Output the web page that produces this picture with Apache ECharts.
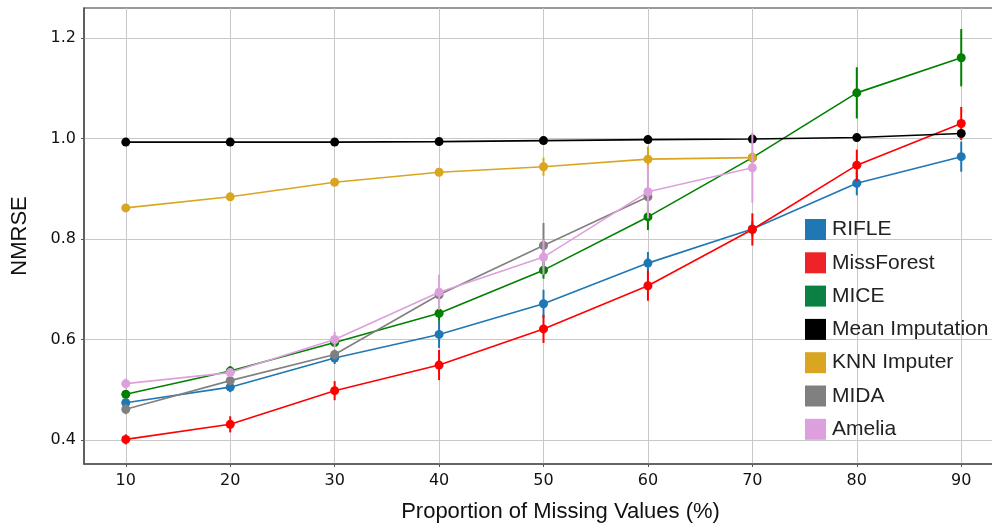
<!DOCTYPE html>
<html>
<head>
<meta charset="utf-8">
<script src="https://cdn.jsdelivr.net/npm/echarts@6/dist/echarts.min.js"></script>
<style>html,body{margin:0;padding:0;background:#fff}#c{width:992px;height:523px}</style>
</head>
<body>
<div id="c"></div>
<script>
var xValues = [10, 20, 30, 40, 50, 60, 70, 80, 90];
var yTicks = [0.4, 0.6, 0.8, 1.0, 1.2];
var names = ['RIFLE', 'MissForest', 'MICE', 'Mean Imputation', 'KNN Imputer', 'MIDA', 'Amelia'];
var rifle = [0.474, 0.505, 0.563, 0.610, 0.671, 0.752, 0.820, 0.911, 0.964];
var rifleErr = [0.006, 0.010, 0.012, 0.027, 0.028, 0.022, 0.015, 0.024, 0.030];
var missForest = [0.401, 0.431, 0.498, 0.549, 0.621, 0.707, 0.819, 0.947, 1.030];
var missForestErr = [0.010, 0.016, 0.019, 0.030, 0.028, 0.030, 0.032, 0.031, 0.033];
var mice = [0.491, 0.537, 0.594, 0.652, 0.738, 0.844, 0.962, 1.091, 1.161];
var miceErr = [0.006, 0.010, 0.008, 0.015, 0.017, 0.026, 0.010, 0.051, 0.057];
var meanImp = [0.993, 0.993, 0.993, 0.994, 0.996, 0.998, 0.999, 1.002, 1.010];
var meanImpErr = [0.002, 0.002, 0.002, 0.002, 0.002, 0.002, 0.002, 0.003, 0.004];
var knn = [0.862, 0.884, 0.913, 0.933, 0.944, 0.959, 0.962];
var knnErr = [0.004, 0.006, 0.006, 0.008, 0.018, 0.025, 0.010];
var mida = [0.461, 0.518, 0.570, 0.689, 0.787, 0.884];
var midaErr = [0.010, 0.007, 0.010, 0.015, 0.045, 0.012];
var amelia = [0.512, 0.534, 0.600, 0.694, 0.764, 0.894, 0.942];
var ameliaErr = [0.010, 0.008, 0.015, 0.035, 0.035, 0.053, 0.070];

var colors = ['#1f77b4', '#ff0000', '#008000', '#000000', '#daa520', '#808080', '#dda0dd'];
var legendColors = ['#1f77b4', '#ee2229', '#0b8043', '#000000', '#daa520', '#808080', '#dda0dd'];
var values = [rifle, missForest, mice, meanImp, knn, mida, amelia];
var errs = [rifleErr, missForestErr, miceErr, meanImpErr, knnErr, midaErr, ameliaErr];
var FONT = 'Liberation Sans, Arial, sans-serif';
var TICKFONT = 'DejaVu Sans, sans-serif';

var series = [];
names.forEach(function (n, i) {
  var vals = values[i], er = errs[i];
  var pts = vals.map(function (v, k) { return [xValues[k], v]; });
  var errData = vals.map(function (v, k) { return [xValues[k], v - er[k], v + er[k]]; });
  series.push({
    type: 'custom', name: n, z: 2 + i * 2,
    data: errData, silent: true,
    renderItem: function (params, api) {
      var p1 = api.coord([api.value(0), api.value(1)]);
      var p2 = api.coord([api.value(0), api.value(2)]);
      return { type: 'line', shape: { x1: p1[0], y1: p1[1], x2: p2[0], y2: p2[1] },
        style: { stroke: colors[i], lineWidth: 2 } };
    }
  });
  series.push({
    type: 'line', name: n, z: 3 + i * 2, data: pts,
    symbol: 'circle', symbolSize: 9, showSymbol: true,
    lineStyle: { color: colors[i], width: 1.6 },
    itemStyle: { color: colors[i] },
    animation: false
  });
});

var chart = echarts.init(document.getElementById('c'));
chart.setOption({
  animation: false,
  color: colors,
  grid: { left: 84, top: 8, width: 919, bottom: 59, show: true, borderColor: '#333', borderWidth: 1.2,
    containLabel: false, outerBoundsMode: 'none' },
  legend: {
    data: names.map(function (n, i) { return { name: n, itemStyle: { color: legendColors[i] } }; }),
    orient: 'vertical', left: 800, top: 214, icon: 'rect',
    itemWidth: 21, itemHeight: 21, itemGap: 12.3,
    textStyle: { fontFamily: FONT, fontSize: 21, color: '#222', padding: [0, 0, 0, 1] }
  },
  xAxis: {
    type: 'value', min: 6, max: 94,
    name: 'Proportion of Missing Values (%)', nameLocation: 'middle', nameGap: 37,
    nameTextStyle: { fontFamily: FONT, fontSize: 22, color: '#111', padding: [0, 0, 0, 34] },
    axisLine: { show: true, lineStyle: { color: '#555', width: 1.5 } },
    axisTick: { show: true, length: 3, customValues: xValues, lineStyle: { color: '#555' } },
    axisLabel: { customValues: xValues, fontFamily: TICKFONT, fontSize: 16, color: '#111', margin: 9 },
    splitLine: { show: true, lineStyle: { color: '#c8c8c8', width: 1 } }
  },
  yAxis: {
    type: 'value', min: 0.352, max: 1.26,
    name: 'NMRSE', nameLocation: 'middle', nameGap: 53,
    nameTextStyle: { fontFamily: FONT, fontSize: 22, color: '#111' },
    axisLine: { show: true, lineStyle: { color: '#555', width: 1.5 } },
    axisTick: { show: true, length: 3, customValues: yTicks, lineStyle: { color: '#555' } },
    axisLabel: { customValues: yTicks, fontFamily: TICKFONT, fontSize: 16, color: '#111', margin: 8,
      formatter: function (v) { return v.toFixed(1); } },
    splitLine: { show: true, lineStyle: { color: '#c8c8c8', width: 1 } }
  },
  series: series
});
</script>
</body>
</html>
